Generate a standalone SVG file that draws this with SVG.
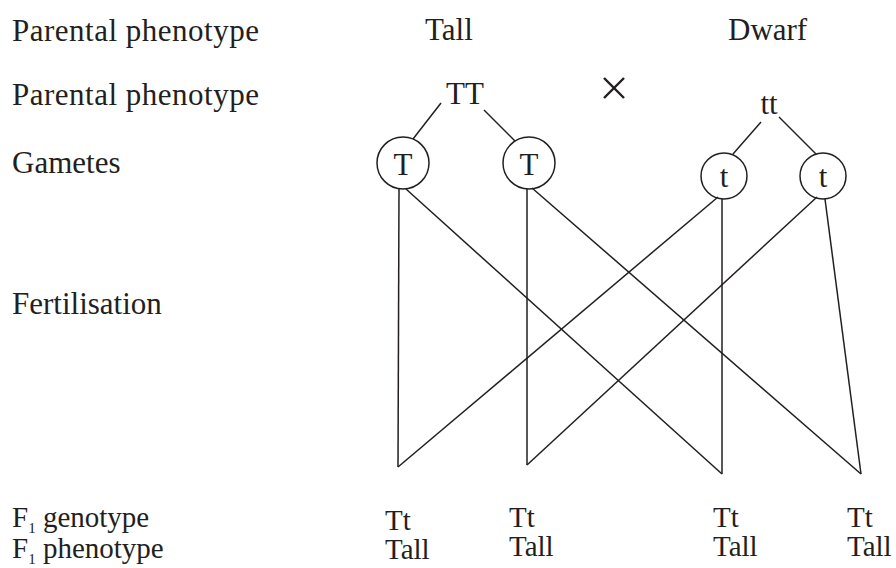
<svg xmlns="http://www.w3.org/2000/svg" width="896" height="568" viewBox="0 0 896 568">
<style>
text{font-family:"Liberation Serif","Times New Roman",serif;font-size:31px;fill:#231f20}
.sm{font-size:29px}
.sub{font-size:15px}
line,circle{stroke:#231f20;stroke-width:1.5;fill:none}
.x{stroke-width:2.4}
</style>
<rect width="896" height="568" fill="#fff"/>
<g id="labels">
<text x="12" y="41" textLength="247" lengthAdjust="spacing">Parental phenotype</text>
<text x="12" y="105" textLength="247" lengthAdjust="spacing">Parental phenotype</text>
<text x="12" y="173">Gametes</text>
<text x="12" y="314">Fertilisation</text>
<text class="sm" x="12" y="527">F<tspan class="sub" dy="6">1</tspan><tspan dy="-6"> genotype</tspan></text>
<text class="sm" x="12" y="558">F<tspan class="sub" dy="6">1</tspan><tspan dy="-6"> phenotype</tspan></text>
<text x="425" y="40">Tall</text>
<text x="728" y="40">Dwarf</text>
</g>
<g id="parent-TT"><text x="465" y="104" text-anchor="middle" font-size="33">TT</text></g>
<g id="cross"><line class="x" x1="604" y1="78" x2="624" y2="98"/><line class="x" x1="624" y1="78" x2="604" y2="98"/></g>
<g id="parent-tt"><text x="769" y="114" text-anchor="middle">tt</text></g>
<g id="gamete-T1"><circle cx="403" cy="163" r="26"/><text x="403" y="175" text-anchor="middle" font-size="33">T</text></g>
<g id="gamete-T2"><circle cx="529" cy="163" r="26"/><text x="529" y="175" text-anchor="middle" font-size="33">T</text></g>
<g id="gamete-t1"><circle cx="724" cy="176" r="23"/><text x="724" y="187" text-anchor="middle">t</text></g>
<g id="gamete-t2"><circle cx="823" cy="176" r="23"/><text x="823" y="187" text-anchor="middle">t</text></g>
<g id="offspring1"><text class="sm" x="385" y="530">Tt</text><text class="sm" x="385" y="559">Tall</text></g>
<g id="offspring2"><text class="sm" x="509" y="527">Tt</text><text class="sm" x="509" y="556">Tall</text></g>
<g id="offspring3"><text class="sm" x="713" y="527">Tt</text><text class="sm" x="713" y="556">Tall</text></g>
<g id="offspring4"><text class="sm" x="847" y="527">Tt</text><text class="sm" x="847" y="556">Tall</text></g>
<g id="connectors">
<line x1="441" y1="103" x2="413" y2="139"/>
<line x1="484" y1="110" x2="515" y2="141"/>
<line x1="761" y1="122" x2="733" y2="154"/>
<line x1="779" y1="117" x2="816" y2="154"/>
<line x1="399" y1="189" x2="398" y2="467"/>
<line x1="398" y1="467" x2="718" y2="197"/>
<line x1="406" y1="189" x2="722" y2="474"/>
<line x1="722" y1="199" x2="722" y2="474"/>
<line x1="527" y1="189" x2="527" y2="465"/>
<line x1="527" y1="465" x2="817" y2="197"/>
<line x1="532" y1="188" x2="861" y2="474"/>
<line x1="825" y1="199" x2="861" y2="474"/>
</g>
</svg>
